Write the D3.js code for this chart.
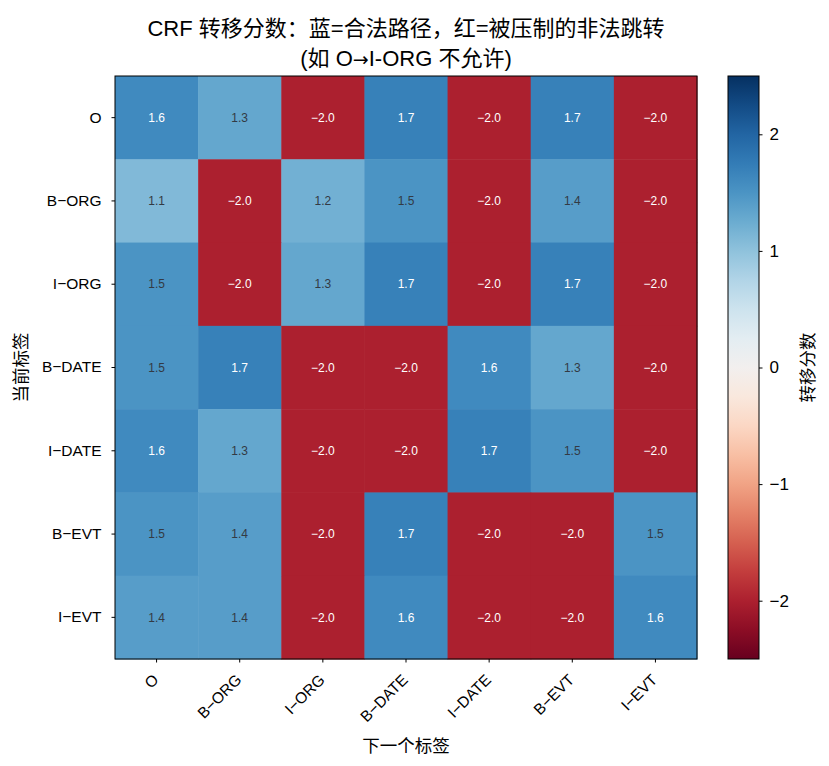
<!DOCTYPE html>
<html>
<head>
<meta charset="utf-8">
<script src="https://cdn.jsdelivr.net/npm/d3@7"></script>
<style>
  body { margin: 0; background: #fff; }
  svg text { font-family: "Liberation Sans", Arial, "Noto Sans CJK SC", sans-serif; fill: #000; }
</style>
</head>
<body>
<div id="chart"></div>
<script>
const tags = ['O', 'B-ORG', 'I-ORG', 'B-DATE', 'I-DATE', 'B-EVT', 'I-EVT']
const scores = [
  [1.6, 1.3, -2.0, 1.7, -2.0, 1.7, -2.0],
  [1.1, -2.0, 1.2, 1.5, -2.0, 1.4, -2.0],
  [1.5, -2.0, 1.3, 1.7, -2.0, 1.7, -2.0],
  [1.5, 1.7, -2.0, -2.0, 1.6, 1.3, -2.0],
  [1.6, 1.3, -2.0, -2.0, 1.7, 1.5, -2.0],
  [1.5, 1.4, -2.0, 1.7, -2.0, -2.0, 1.5],
  [1.4, 1.4, -2.0, 1.6, -2.0, -2.0, 1.6]
]
const colorTicks = [-2, -1, 0, 1, 2]
const titleLine1 = 'CRF 转移分数：蓝=合法路径，红=被压制的非法跳转'
const titleLine2 = ['(如 O', '→', 'I-ORG 不允许)']

const W = 829, H = 766
const margin = { top: 76, left: 115 }
const plotW = 582, plotH = 583
const cb = { x: 728, w: 31 }

const svg = d3.select('#chart').append('svg').attr('width', W).attr('height', H)

const x = d3.scaleBand().domain(tags).range([margin.left, margin.left + plotW])
const y = d3.scaleBand().domain(tags).range([margin.top, margin.top + plotH])
const color = d3.scaleSequential(d3.interpolateRdBu).domain([-2.5, 2.5])

const cells = []
scores.forEach((row, i) => row.forEach((v, j) => cells.push({ from: tags[i], to: tags[j], v })))

svg.append('g').selectAll('rect').data(cells).join('rect')
  .attr('x', d => x(d.to)).attr('y', d => y(d.from))
  .attr('width', x.bandwidth() + 0.5).attr('height', y.bandwidth() + 0.5)
  .attr('fill', d => color(d.v))

svg.append('g').selectAll('text').data(cells).join('text')
  .attr('x', d => x(d.to) + x.bandwidth() / 2)
  .attr('y', d => y(d.from) + y.bandwidth() / 2)
  .attr('dy', '0.35em')
  .attr('text-anchor', 'middle')
  .style('font-size', '12px')
  .style('fill', d => Math.abs(d.v) > 1.55 ? '#ffffff' : '#333a44')
  .text(d => d3.format('.1f')(d.v).replace('-', '−'))

svg.append('rect')
  .attr('x', margin.left).attr('y', margin.top).attr('width', plotW).attr('height', plotH)
  .attr('fill', 'none').attr('stroke', '#000').attr('stroke-width', 1)

// axes
const xAxis = svg.append('g')
  .attr('transform', `translate(0, ${margin.top + plotH})`)
  .call(d3.axisBottom(x).tickSize(3.5).tickFormat(d => d.replace('-', '−')))
xAxis.select('.domain').remove()
xAxis.selectAll('text')
  .style('font-size', '15.5px')
  .attr('text-anchor', 'end')
  .attr('y', 0).attr('dy', '0.35em')
  .attr('transform', 'translate(-1, 18) rotate(-45)')

const yAxis = svg.append('g')
  .attr('transform', `translate(${margin.left}, 0)`)
  .call(d3.axisLeft(y).tickSize(3.5).tickPadding(10).tickFormat(d => d.replace('-', '−')))
yAxis.select('.domain').remove()
yAxis.selectAll('text').style('font-size', '15.5px')
svg.selectAll('.tick line').attr('stroke', '#000')

svg.append('text')
  .attr('x', margin.left + plotW / 2).attr('y', 752)
  .attr('text-anchor', 'middle').style('font-size', '17.5px')
  .text('下一个标签')

svg.append('text')
  .attr('transform', `translate(27, ${margin.top + plotH / 2}) rotate(-90)`)
  .attr('text-anchor', 'middle').style('font-size', '17.5px')
  .text('当前标签')

svg.append('text')
  .attr('x', margin.left + plotW / 2).attr('y', 36)
  .attr('text-anchor', 'middle').style('font-size', '22px')
  .text(titleLine1)
svg.append('text')
  .attr('x', margin.left + plotW / 2).attr('y', 66)
  .attr('text-anchor', 'middle').style('font-size', '22px')
  .selectAll('tspan').data(titleLine2).join('tspan')
  .style('font-family', (d, i) => i === 1 ? '"DejaVu Sans", sans-serif' : null)
  .style('font-size', (d, i) => i === 1 ? '19px' : null)
  .text(d => d)

// colorbar
const cy = d3.scaleLinear().domain([-2.5, 2.5]).range([margin.top + plotH, margin.top])
const defs = svg.append('defs')
const grad = defs.append('linearGradient').attr('id', 'cbgrad')
  .attr('x1', 0).attr('y1', 1).attr('x2', 0).attr('y2', 0)
d3.range(0, 1.0001, 0.05).forEach(t => {
  grad.append('stop').attr('offset', t).attr('stop-color', d3.interpolateRdBu(t))
})
svg.append('rect')
  .attr('x', cb.x).attr('y', margin.top).attr('width', cb.w).attr('height', plotH)
  .attr('fill', 'url(#cbgrad)').attr('stroke', '#000').attr('stroke-width', 1)

const cAxis = svg.append('g')
  .attr('transform', `translate(${cb.x + cb.w}, 0)`)
  .call(d3.axisRight(cy).tickValues(colorTicks).tickSize(3.5).tickPadding(7)
    .tickFormat(d => String(d).replace('-', '−')))
cAxis.select('.domain').remove()
cAxis.selectAll('text').style('font-size', '17px')
cAxis.selectAll('line').attr('stroke', '#000')

svg.append('text')
  .attr('transform', `translate(814, ${margin.top + plotH / 2}) rotate(-90)`)
  .attr('text-anchor', 'middle').style('font-size', '17.5px')
  .text('转移分数')
</script>
</body>
</html>
